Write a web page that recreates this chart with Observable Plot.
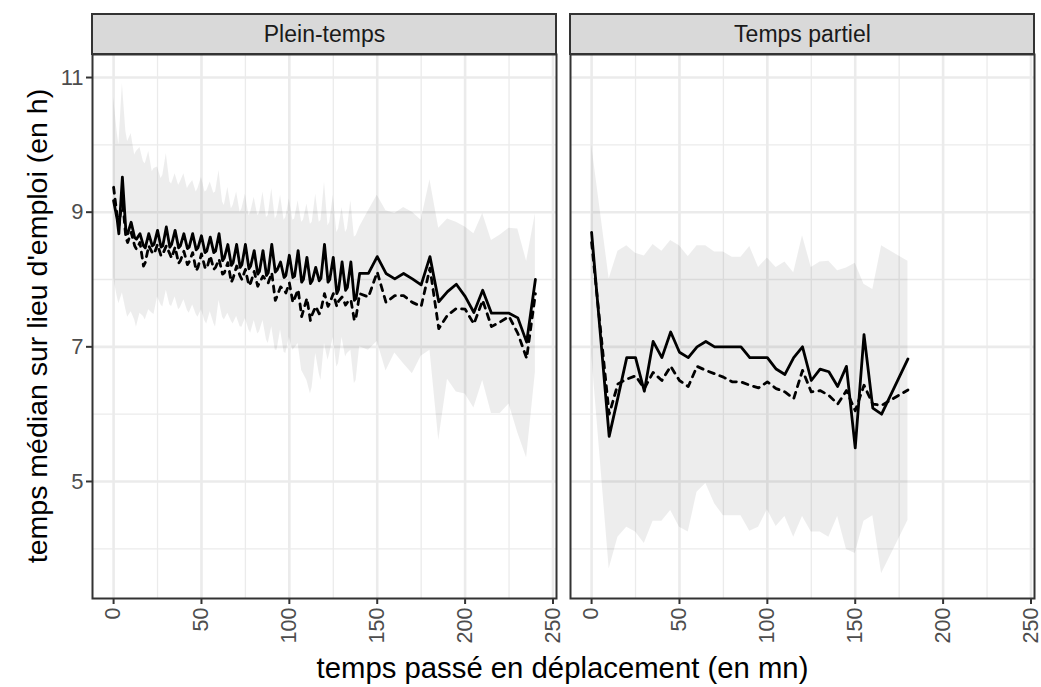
<!DOCTYPE html>
<html><head><meta charset="utf-8">
<script src="https://cdn.jsdelivr.net/npm/d3@7"></script>
<script src="https://cdn.jsdelivr.net/npm/@observablehq/plot@0.6"></script>
<style>body{margin:0;background:#fff;}</style>
</head><body><div id="chart"></div>
<script>
const panels = ["Plein-temps", "Temps partiel"];
const xTicks = [0, 50, 100, 150, 200, 250];
const xMinor = [25, 75, 125, 175, 225];
const yTicks = [5, 7, 9, 11];
const yMinor = [4, 6, 8, 10];

// Plein-temps
const pleinMinutes = [0,2,3,5,7,8,10,12,13,15,17,18,20,22,23,25,27,28,30,32,33,35,37,38,40,42,43,45,47,48,50,52,53,55,57,58,60,62,63,65,67,68,70,72,73,75,77,78,80,82,83,85,87,88,90,92,93,95,97,98,100,102,103,105,107,108,110,112,113,115,117,118,120,122,123,125,127,128,130,132,133,135,137,138,140,145,150,155,160,165,170,175,180,185,190,195,200,205,210,215,220,225,230,235,240];
const pleinSolid = [9.17,8.90,8.68,9.52,8.72,8.68,8.85,8.62,8.60,8.68,8.50,8.47,8.68,8.50,8.52,8.73,8.48,8.50,8.78,8.48,8.52,8.73,8.47,8.50,8.68,8.46,8.48,8.68,8.44,8.47,8.65,8.40,8.42,8.63,8.40,8.42,8.68,8.28,8.32,8.52,8.21,8.25,8.52,8.18,8.22,8.52,8.16,8.20,8.43,8.08,8.12,8.43,8.06,8.10,8.52,8.11,8.14,8.26,8.03,8.06,8.36,8.03,8.05,8.43,7.96,8.00,8.33,7.94,7.98,8.18,7.98,8.02,8.52,7.96,8.00,8.33,7.79,7.85,8.26,7.84,7.88,8.26,7.69,7.72,8.09,8.09,8.34,8.09,8.01,8.09,8.01,7.92,8.34,7.67,7.82,7.93,7.75,7.51,7.84,7.50,7.50,7.50,7.43,7.07,8.00];
const pleinDashed = [9.37,8.95,8.80,9.20,8.62,8.55,8.70,8.50,8.45,8.55,8.20,8.25,8.50,8.40,8.38,8.52,8.35,8.38,8.50,8.38,8.32,8.48,8.24,8.28,8.42,8.22,8.26,8.40,8.13,8.18,8.38,8.18,8.16,8.35,8.15,8.18,8.30,8.08,8.10,8.25,7.96,8.02,8.20,8.05,8.00,8.15,7.91,7.95,8.12,7.90,7.95,8.05,7.98,7.95,8.10,7.69,7.75,7.89,7.85,7.80,7.95,7.66,7.72,7.85,7.45,7.54,7.72,7.39,7.48,7.60,7.49,7.55,7.79,7.60,7.65,7.79,7.60,7.68,7.74,7.62,7.66,7.70,7.39,7.45,7.79,7.74,8.11,7.66,7.76,7.76,7.66,7.60,8.17,7.27,7.47,7.57,7.56,7.34,7.69,7.30,7.37,7.45,7.20,6.83,7.79];
const pleinHigh = [10.71,10.20,10.00,10.91,10.20,10.05,10.17,9.85,9.90,9.96,9.75,9.72,9.90,9.60,9.65,9.67,9.50,9.55,9.87,9.45,9.42,9.57,9.40,9.45,9.57,9.35,9.40,9.47,9.30,9.35,9.52,9.30,9.32,9.45,9.28,9.30,9.62,9.15,9.10,9.37,9.05,9.10,9.30,9.00,9.05,9.27,8.95,9.00,9.22,8.95,8.98,9.30,8.92,8.95,9.35,8.90,8.95,9.25,8.88,8.92,9.20,8.88,8.90,9.17,8.85,8.88,9.12,8.82,8.85,9.27,8.85,8.88,9.45,8.80,8.85,9.25,8.70,8.75,9.07,8.70,8.75,9.17,8.63,8.65,8.78,9.02,9.25,9.02,8.98,9.07,9.00,8.88,9.48,8.76,8.90,8.85,8.78,8.68,8.98,8.58,8.66,8.76,8.75,8.27,8.98];
const pleinLow = [8.03,7.75,7.64,7.80,7.55,7.44,7.52,7.40,7.29,7.50,7.45,7.40,7.55,7.50,7.48,7.74,7.62,7.59,7.84,7.62,7.60,7.74,7.55,7.58,7.70,7.54,7.50,7.62,7.48,7.44,7.55,7.38,7.34,7.52,7.35,7.29,7.69,7.44,7.40,7.50,7.38,7.34,7.45,7.30,7.29,7.42,7.25,7.20,7.39,7.19,7.22,7.39,7.10,7.05,7.30,6.95,6.95,7.25,6.92,6.90,7.14,6.95,6.98,7.05,6.65,6.60,6.50,6.30,6.40,6.90,6.60,6.50,7.05,6.80,6.90,7.14,6.70,6.75,7.14,6.85,6.90,6.95,6.45,6.50,7.00,6.95,7.08,6.64,6.91,6.75,6.60,6.86,6.95,5.61,6.52,6.33,6.30,6.09,6.50,6.01,6.01,6.15,5.72,5.35,6.62];

// Temps partiel
const partielMinutes = [0,10,15,20,25,30,35,40,45,50,55,60,65,70,75,80,85,90,95,100,105,110,115,120,125,130,135,140,145,150,155,160,165,180];
const partielSolid = [8.70,5.67,6.25,6.84,6.84,6.34,7.08,6.84,7.22,6.92,6.84,7.00,7.08,7.00,7.00,7.00,7.00,6.84,6.84,6.84,6.67,6.59,6.84,7.00,6.50,6.67,6.63,6.41,6.71,5.50,7.18,6.09,6.00,6.82];
const partielDashed = [8.55,6.00,6.45,6.52,6.57,6.38,6.62,6.50,6.71,6.50,6.41,6.71,6.65,6.60,6.55,6.48,6.48,6.43,6.39,6.48,6.38,6.33,6.23,6.65,6.33,6.35,6.28,6.15,6.35,6.05,6.43,6.15,6.13,6.36];
const partielHigh = [10.01,8.01,8.42,8.50,8.39,8.35,8.52,8.42,8.58,8.50,8.34,8.50,8.50,8.41,8.41,8.33,8.33,8.49,8.18,8.32,8.18,8.26,8.10,8.65,8.18,8.26,8.27,8.13,8.17,8.24,7.93,7.85,8.50,8.27];
const partielLow = [6.90,3.70,4.17,4.32,4.25,4.08,4.41,4.41,4.57,4.32,4.25,4.84,4.97,4.67,4.49,4.49,4.49,4.26,4.32,4.58,4.33,4.48,4.17,4.48,4.25,4.25,4.17,4.48,3.99,3.93,4.41,4.49,3.63,4.42];

function rows(panel, xs, s, d, lo, hi) {
  return xs.map((x, i) => ({panel, x, s: s[i], d: d[i], lo: lo[i], hi: hi[i]}));
}
const data = [
  ...rows(panels[0], pleinMinutes, pleinSolid, pleinDashed, pleinLow, pleinHigh),
  ...rows(panels[1], partielMinutes, partielSolid, partielDashed, partielLow, partielHigh)
];

const W = 1041, H = 687, ML = 91, MR = 7, MT = 54, MB = 89;
const xDomain = [-12, 252];
const yDomain = [3.262, 11.342];
const stripTop = yDomain[1] + 40 * (yDomain[1] - yDomain[0]) / (H - MT - MB);
const font = "'Liberation Sans', Arial, Helvetica, sans-serif";

const plot = Plot.plot({
  width: W, height: H,
  marginLeft: ML, marginRight: MR, marginTop: MT, marginBottom: MB,
  style: {fontFamily: font, background: "white", overflow: "visible"},
  fx: {domain: panels, axis: null, paddingInner: 0.03, paddingOuter: 0, label: null},
  x: {domain: xDomain, label: null},
  y: {domain: yDomain, label: null},
  marks: [
    Plot.gridX(xMinor, {stroke: "#EBEBEB", strokeOpacity: 1, strokeWidth: 1.3}),
    Plot.gridY(yMinor, {stroke: "#EBEBEB", strokeOpacity: 1, strokeWidth: 1.3}),
    Plot.gridX(xTicks, {stroke: "#EBEBEB", strokeOpacity: 1, strokeWidth: 2.6}),
    Plot.gridY(yTicks, {stroke: "#EBEBEB", strokeOpacity: 1, strokeWidth: 2.6}),
    Plot.areaY(data, {fx: "panel", x: "x", y1: "lo", y2: "hi", fill: "#000", fillOpacity: 0.07}),
    Plot.lineY(data, {fx: "panel", x: "x", y: "d", stroke: "#000", strokeWidth: 2.8, strokeDasharray: "6,6"}),
    Plot.lineY(data, {fx: "panel", x: "x", y: "s", stroke: "#000", strokeWidth: 2.8}),
    Plot.frame({stroke: "#333", strokeWidth: 2}),
    Plot.rect(panels, {fx: d => d, x1: () => xDomain[0], x2: () => xDomain[1], y1: () => yDomain[1], y2: () => stripTop, fill: "#D9D9D9", stroke: "#333", strokeWidth: 2}),
    Plot.text(panels, {fx: d => d, x: () => (xDomain[0] + xDomain[1]) / 2, y: () => (yDomain[1] + stripTop) / 2, text: d => d, fontSize: 23, fill: "#1A1A1A"}),
    Plot.axisX(xTicks, {tickRotate: -90, tickSize: 6, tickPadding: 3, fontSize: 21.5, tickFormat: d => String(d), stroke: "#333", fill: "#4D4D4D", strokeWidth: 2, label: null}),
    Plot.axisY(yTicks, {tickSize: 6, tickPadding: 3, fontSize: 22, tickFormat: d => String(d), stroke: "#333", fill: "#4D4D4D", strokeWidth: 2, label: null})
  ]
});

const svg = d3.select(plot);
svg.append("text")
  .attr("x", (ML + W - MR) / 2).attr("y", 678)
  .attr("text-anchor", "middle").attr("font-family", font).attr("font-size", 29.3).attr("fill", "#000")
  .text("temps passé en déplacement (en mn)");
svg.append("text")
  .attr("transform", `translate(47, ${(MT + H - MB) / 2}) rotate(-90)`)
  .attr("text-anchor", "middle").attr("font-family", font).attr("font-size", 28.5).attr("fill", "#000")
  .text("temps médian sur lieu d'emploi (en h)");

document.getElementById("chart").appendChild(plot);
</script>
</body></html>
